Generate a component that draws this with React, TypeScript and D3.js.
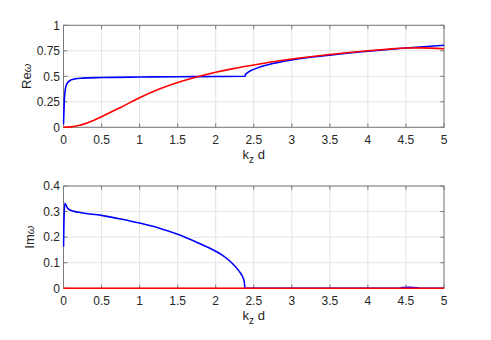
import React from "react";
import * as d3 from "d3";

// k_z d samples and values
const reBlueX = [0, 0.01, 0.02, 0.04, 0.07, 0.1, 0.15, 0.25, 0.5, 1, 1.5, 2, 2.385, 2.39, 2.42, 2.5, 2.75, 3, 3.5, 4, 4.5, 5];
const reBlueY = [0.03, 0.25, 0.35, 0.42, 0.45, 0.465, 0.475, 0.482, 0.488, 0.493, 0.496, 0.498, 0.5, 0.515, 0.537, 0.568, 0.625, 0.66, 0.707, 0.745, 0.777, 0.805];

const reRedX = [0, 0.1, 0.2, 0.3, 0.4, 0.5, 0.75, 1, 1.25, 1.5, 1.75, 2, 2.25, 2.5, 2.75, 3, 3.5, 4, 4.25, 4.5, 4.7, 5];
const reRedY = [0, 0.004, 0.017, 0.04, 0.07, 0.104, 0.195, 0.29, 0.373, 0.44, 0.494, 0.54, 0.578, 0.61, 0.643, 0.67, 0.714, 0.75, 0.765, 0.777, 0.779, 0.77];

const imBlueX = [0, 0.005, 0.018, 0.05, 0.085, 0.2, 0.5, 0.75, 1, 1.25, 1.5, 1.75, 2, 2.1, 2.2, 2.3, 2.35, 2.375, 2.385, 2.4, 4.4, 4.45, 4.55, 4.65, 4.7, 5];
const imBlueY = [0.163, 0.25, 0.332, 0.315, 0.306, 0.297, 0.285, 0.271, 0.255, 0.236, 0.211, 0.18, 0.145, 0.127, 0.103, 0.07, 0.047, 0.026, 0, 0, 0, 0.003, 0.004, 0.002, 0, 0];

const imRedX = [0, 5];
const imRedY = [0, 0];

const xTicks = [0, 0.5, 1, 1.5, 2, 2.5, 3, 3.5, 4, 4.5, 5];
const reTicks = [0, 0.25, 0.5, 0.75, 1];
const imTicks = [0, 0.1, 0.2, 0.3, 0.4];

const FONT = "'Liberation Sans', Arial, sans-serif";
const AX = "#262626";

type Series = { xs: number[]; ys: number[]; color: string };

function Panel({ id, top, bottom, yMax, yTicks, yLabel, series }: {
  id: string; top: number; bottom: number; yMax: number; yTicks: number[];
  yLabel: string; series: Series[];
}) {
  const left = 63.5, right = 444;
  const x = d3.scaleLinear().domain([0, 5]).range([left, right]);
  const y = d3.scaleLinear().domain([0, yMax]).range([bottom, top]);
  const line = d3.line<[number, number]>()
    .x((d) => x(d[0]))
    .y((d) => y(d[1]))
    .curve(d3.curveMonotoneX);
  const tl = 3.8;
  return (
    <g>
      <defs>
        <clipPath id={id}>
          <rect x={left - 1} y={top - 2} width={right - left + 2} height={bottom - top + 4} />
        </clipPath>
      </defs>
      {/* grid */}
      {xTicks.map((t) => (
        <line key={"gx" + t} x1={x(t)} x2={x(t)} y1={top} y2={bottom} stroke="#e3e3e3" strokeWidth={1} />
      ))}
      {yTicks.map((t) => (
        <line key={"gy" + t} x1={left} x2={right} y1={y(t)} y2={y(t)} stroke="#e3e3e3" strokeWidth={1} />
      ))}
      {/* box and ticks */}
      <rect x={left} y={top} width={right - left} height={bottom - top} fill="none" stroke="#7a7a7a" strokeWidth={1} />
      {xTicks.map((t) => (
        <g key={"tx" + t}>
          <line x1={x(t)} x2={x(t)} y1={bottom} y2={bottom - tl} stroke="#7a7a7a" />
          <line x1={x(t)} x2={x(t)} y1={top} y2={top + tl} stroke="#7a7a7a" />
          <text x={x(t)} y={bottom + 16.5} textAnchor="middle" fontSize={12} fill={AX} fontFamily={FONT}>{t}</text>
        </g>
      ))}
      {yTicks.map((t) => (
        <g key={"ty" + t}>
          <line x1={left} x2={left + tl} y1={y(t)} y2={y(t)} stroke="#7a7a7a" />
          <line x1={right} x2={right - tl} y1={y(t)} y2={y(t)} stroke="#7a7a7a" />
          <text x={60} y={y(t)} dy="0.35em" textAnchor="end" fontSize={12} fill={AX} fontFamily={FONT}>{t}</text>
        </g>
      ))}
      {/* data, drawn over the axes like MATLAB */}
      <g clipPath={`url(#${id})`}>
        {series.map((s, i) => (
          <path key={i} d={line(s.xs.map((v, j) => [v, s.ys[j]] as [number, number])) || ""}
            fill="none" stroke={s.color} strokeWidth={1.6} strokeLinejoin="round" />
        ))}
      </g>
      <text x={(left + right) / 2} y={bottom + 32} textAnchor="middle" fontSize={13} fill={AX} fontFamily={FONT}>
        k<tspan dy={4} fontSize={10}>z</tspan><tspan dy={-4}> d</tspan>
      </text>
      <text transform={`translate(${yLabel === "Re" ? 30.5 : 34},${(top + bottom) / 2}) rotate(-90)`}
        textAnchor="middle" fontSize={13} fill={AX} fontFamily={FONT}>
        {yLabel}<tspan fontSize={11} fontStyle="italic">ω</tspan>
      </text>
    </g>
  );
}

export default function App() {
  return (
    <svg width={491} height={340} style={{ position: "absolute", left: 0, top: 0, background: "#fff" }}>
      <rect width={491} height={340} fill="#fff" />
      <Panel id="c1" top={25.3} bottom={127.3} yMax={1} yTicks={reTicks} yLabel="Re"
        series={[{ xs: reBlueX, ys: reBlueY, color: "#0000ff" }, { xs: reRedX, ys: reRedY, color: "#ff0000" }]} />
      <Panel id="c2" top={186} bottom={288.3} yMax={0.4} yTicks={imTicks} yLabel="Im"
        series={[{ xs: imBlueX, ys: imBlueY, color: "#0000ff" }, { xs: imRedX, ys: imRedY, color: "#ff0000" }]} />
    </svg>
  );
}
